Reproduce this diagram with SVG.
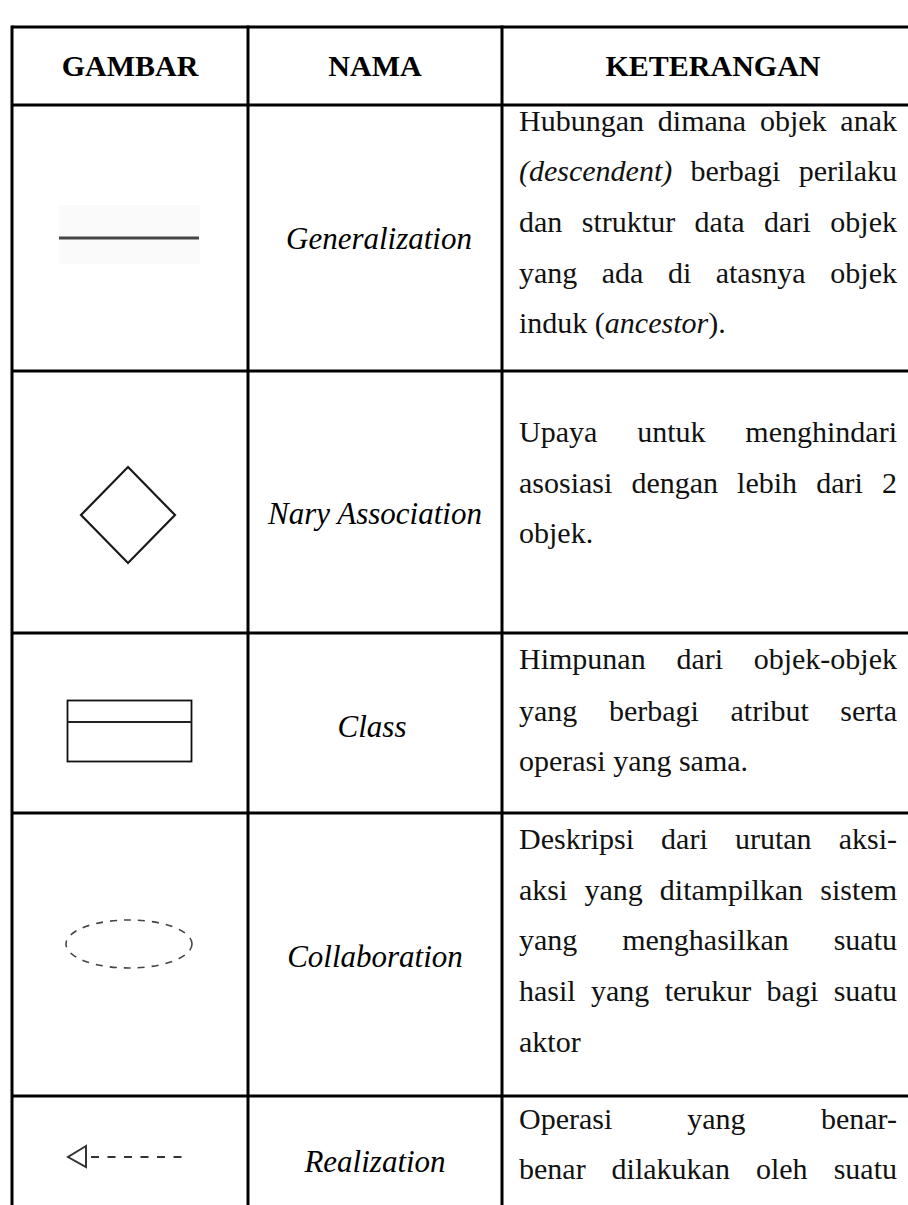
<svg xmlns="http://www.w3.org/2000/svg" width="908" height="1205" viewBox="0 0 908 1205">
<style>
.grid{stroke:#000;stroke-width:3;fill:none}
.hd{font-family:"Liberation Serif",serif;font-weight:bold;font-size:30px;text-anchor:middle;fill:#000}
.nm{font-family:"Liberation Serif",serif;font-style:italic;font-size:31px;text-anchor:middle;fill:#000}
.tx{font-family:"Liberation Serif",serif;font-size:30px;fill:#111}
.it{font-style:italic}
.e{text-anchor:end}
</style>
<rect width="908" height="1205" fill="#fff"/>
<g id="table">
<line class="grid" x1="12" y1="27" x2="908" y2="27"/>
<line class="grid" x1="12" y1="105" x2="908" y2="105"/>
<line class="grid" x1="12" y1="371" x2="908" y2="371"/>
<line class="grid" x1="12" y1="633" x2="908" y2="633"/>
<line class="grid" x1="12" y1="813" x2="908" y2="813"/>
<line class="grid" x1="12" y1="1096" x2="908" y2="1096"/>
<line class="grid" x1="12" y1="25.5" x2="12" y2="1205"/>
<line class="grid" x1="248" y1="25.5" x2="248" y2="1205"/>
<line class="grid" x1="502" y1="25.5" x2="502" y2="1205"/>
</g>
<g id="header">
<text class="hd" x="130" y="76">GAMBAR</text>
<text class="hd" x="375" y="76">NAMA</text>
<text class="hd" x="713" y="76">KETERANGAN</text>
</g>
<g id="row-generalization">
<rect x="59" y="205" width="141" height="59" fill="#fafafa"/>
<line x1="59" y1="238" x2="199" y2="238" stroke="#454545" stroke-width="3"/>
<text class="nm" x="379" y="249">Generalization</text>
<text class="tx" y="131"><tspan x="519">Hubungan</tspan><tspan x="657.8">dimana</tspan><tspan x="759.9">objek</tspan><tspan x="897" class="e">anak</tspan></text>
<text class="tx" y="181"><tspan x="519" class="it">(descendent)</tspan><tspan x="690.5">berbagi</tspan><tspan x="897" class="e">perilaku</tspan></text>
<text class="tx" y="232"><tspan x="519">dan</tspan><tspan x="581.8">struktur</tspan><tspan x="694.6">data</tspan><tspan x="764.1">dari</tspan><tspan x="897" class="e">objek</tspan></text>
<text class="tx" y="283"><tspan x="519">yang</tspan><tspan x="601.8">ada</tspan><tspan x="667.9">di</tspan><tspan x="715.7">atasnya</tspan><tspan x="897" class="e">objek</tspan></text>
<text class="tx" x="519" y="333">induk (<tspan class="it">ancestor</tspan>).</text>
</g>
<g id="row-nary">
<polygon points="128,467 175,515 128,563 81,515" fill="none" stroke="#1a1a1a" stroke-width="2.2"/>
<text class="nm" x="375" y="524">Nary Association</text>
<text class="tx" y="442"><tspan x="519">Upaya</tspan><tspan x="637.2">untuk</tspan><tspan x="897" class="e">menghindari</tspan></text>
<text class="tx" y="493"><tspan x="519">asosiasi</tspan><tspan x="631.4">dengan</tspan><tspan x="737.1">lebih</tspan><tspan x="816.2">dari</tspan><tspan x="897" class="e">2</tspan></text>
<text class="tx" x="519" y="543">objek.</text>
</g>
<g id="row-class">
<rect x="67.5" y="700.5" width="124" height="61" fill="none" stroke="#111" stroke-width="1.8"/>
<line x1="67.5" y1="722" x2="191.5" y2="722" stroke="#222" stroke-width="1.8"/>
<text class="nm" x="372" y="737">Class</text>
<text class="tx" y="669"><tspan x="519">Himpunan</tspan><tspan x="676.4">dari</tspan><tspan x="897" class="e">objek-objek</tspan></text>
<text class="tx" y="721"><tspan x="519">yang</tspan><tspan x="608.9">berbagi</tspan><tspan x="730.5">atribut</tspan><tspan x="897" class="e">serta</tspan></text>
<text class="tx" x="519" y="771">operasi yang sama.</text>
</g>
<g id="row-collaboration">
<ellipse cx="129" cy="944" rx="63" ry="24" fill="none" stroke="#444" stroke-width="1.6" stroke-dasharray="7 7"/>
<text class="nm" x="375" y="967">Collaboration</text>
<text class="tx" y="849"><tspan x="519">Deskripsi</tspan><tspan x="661.1">dari</tspan><tspan x="734.9">urutan</tspan><tspan x="897" class="e">aksi-</tspan></text>
<text class="tx" y="900"><tspan x="519">aksi</tspan><tspan x="584.4">yang</tspan><tspan x="659.8">ditampilkan</tspan><tspan x="897" class="e">sistem</tspan></text>
<text class="tx" y="950"><tspan x="519">yang</tspan><tspan x="622.2">menghasilkan</tspan><tspan x="897" class="e">suatu</tspan></text>
<text class="tx" y="1001"><tspan x="519">hasil</tspan><tspan x="591">yang</tspan><tspan x="664.7">terukur</tspan><tspan x="766.6">bagi</tspan><tspan x="897" class="e">suatu</tspan></text>
<text class="tx" x="519" y="1052">aktor</text>
</g>
<g id="row-realization">
<polygon points="86,1146 68,1157 86,1167" fill="none" stroke="#333" stroke-width="2"/>
<line x1="86" y1="1157" x2="190" y2="1157" stroke="#333" stroke-width="1.8" stroke-dasharray="8 8.5" stroke-dashoffset="-5"/>
<text class="nm" x="375" y="1172">Realization</text>
<text class="tx" y="1129"><tspan x="519">Operasi</tspan><tspan x="687.2">yang</tspan><tspan x="897" class="e">benar-</tspan></text>
<text class="tx" y="1179"><tspan x="519">benar</tspan><tspan x="611.6">dilakukan</tspan><tspan x="755.9">oleh</tspan><tspan x="897" class="e">suatu</tspan></text>
</g>
</svg>
